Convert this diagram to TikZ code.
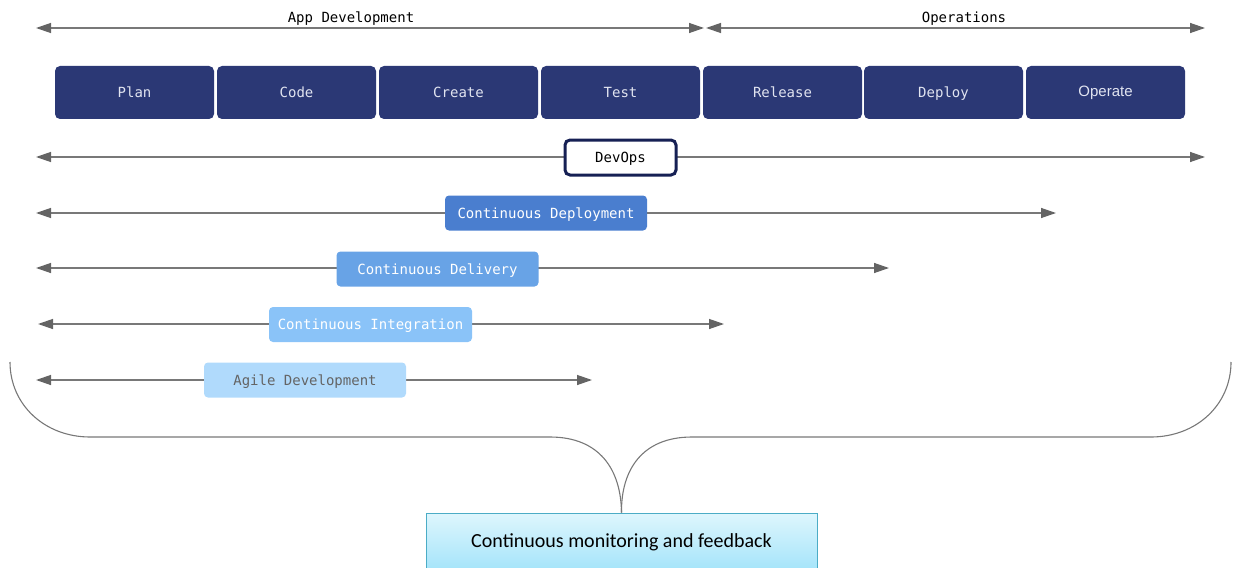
\documentclass[tikz,border=0pt]{standalone}
\usepackage{fontspec}
\setmainfont{Carlito}
\newfontfamily\monof{DejaVu Sans Mono}
\newfontfamily\arialf{Liberation Sans}
\usetikzlibrary{arrows.meta}
\definecolor{navy}{RGB}{43,56,117}
\definecolor{navyborder}{RGB}{22,32,84}
\definecolor{stagetext}{RGB}{225,228,240}
\definecolor{linegray}{RGB}{120,120,120}
\definecolor{headgray}{RGB}{100,100,100}
\definecolor{cdeploy}{RGB}{74,126,207}
\definecolor{cdeliver}{RGB}{104,163,230}
\definecolor{cinteg}{RGB}{138,195,248}
\definecolor{cagile}{RGB}{176,218,252}
\definecolor{agiletext}{RGB}{100,100,100}
\definecolor{boxtop}{RGB}{222,246,253}
\definecolor{boxbot}{RGB}{164,228,250}
\definecolor{boxborder}{RGB}{75,172,198}
\tikzset{
  x=1pt, y=-1pt,
  tip/.tip={Triangle[length=15pt,width=10pt,color=headgray]},
  span/.style={draw=linegray, line width=1.3pt, tip-tip},
  monotext/.style={font=\monof\fontsize{14}{16}\selectfont, text height=10pt, text depth=0pt},
  stage/.style={fill=navy, draw=none, rounded corners=5pt, minimum width=159pt, minimum height=53pt,
    inner sep=0pt, text=stagetext, monotext},
  practice/.style={draw=none, rounded corners=4pt, minimum width=202pt, minimum height=35pt,
    inner sep=0pt, text=white, monotext},
  phaselabel/.style={inner sep=0pt, text=black, monotext},
  brace/.style={draw=linegray, line width=1.1pt},
}
\begin{document}
\begin{tikzpicture}
\useasboundingbox (0,0) rectangle (1238,567);
% phase arrows
\coordinate (ad1) at (36,28);
\coordinate (ad2) at (704,28);
\coordinate (op1) at (706,28);
\coordinate (op2) at (1205,28);
\draw[span] (ad1) -- (ad2);
\draw[span] (op1) -- (op2);
\node[phaselabel] (adlabel) at (351,18) {App Development};
\node[phaselabel] (oplabel) at (964,18) {Operations};
% stages
\node[stage] (plan)    at (134.5,92.5) {Plan};
\node[stage] (code)    at (296.5,92.5) {Code};
\node[stage] (create)  at (458.5,92.5) {Create};
\node[stage] (test)    at (620.5,92.5) {Test};
\node[stage] (release) at (782.5,92.5) {Release};
\node[stage] (deploy)  at (943.5,92.5) {Deploy};
\node[stage, font=\arialf\fontsize{15}{17}\selectfont, text height=10.7pt, text depth=3pt] (operate) at (1105.5,92.5) {Operate};
% DevOps
\coordinate (dv1) at (36,157);
\coordinate (dv2) at (1205,157);
\draw[span] (dv1) -- (dv2);
\node[draw=navyborder, line width=3pt, fill=white, rounded corners=5pt, minimum width=111pt, minimum height=35pt,
  inner sep=0pt, monotext] (devops) at (620.5,157.5) {DevOps};
% Continuous deployment
\coordinate (cd1) at (36,213);
\coordinate (cd2) at (1056,213);
\draw[span] (cd1) -- (cd2);
\node[practice, fill=cdeploy] (cdeploy) at (546,213) {Continuous Deployment};
% Continuous delivery
\coordinate (cl1) at (36,268);
\coordinate (cl2) at (889,268);
\draw[span] (cl1) -- (cl2);
\node[practice, fill=cdeliver] (cdeliver) at (437.5,269) {Continuous Delivery};
% Continuous integration
\coordinate (ci1) at (38,324);
\coordinate (ci2) at (724,324);
\draw[span] (ci1) -- (ci2);
\node[practice, fill=cinteg, minimum width=203pt] (cinteg) at (370.5,324.5) {Continuous Integration};
% Agile
\coordinate (ag1) at (36,380);
\coordinate (ag2) at (592,380);
\draw[span] (ag1) -- (ag2);
\node[practice, fill=cagile, text=agiletext] (agile) at (305,380) {Agile Development};
% bottom box
\node[draw=boxborder, line width=0.8pt, top color=boxtop, bottom color=boxbot, minimum width=391pt,
  minimum height=58pt, inner sep=0pt] (monitor) at (621.5,542) {};
\node[inner sep=0pt, font=\fontsize{20}{24}\selectfont, text height=13pt, text depth=0pt] (monitortext) at (621.5,541) {Continuous monitoring and feedback};
% brace
\coordinate (bl) at (10,362);
\coordinate (br) at (1231,362);
\draw[brace] (bl) .. controls (10,405) and (45,437) .. (90,437) -- (550,437)
  .. controls (600,437) and (621,470) .. (monitor.north);
\draw[brace] (br) .. controls (1231,405) and (1196,437) .. (1151,437) -- (692,437)
  .. controls (642,437) and (621,470) .. (monitor.north);
\end{tikzpicture}
\end{document}
